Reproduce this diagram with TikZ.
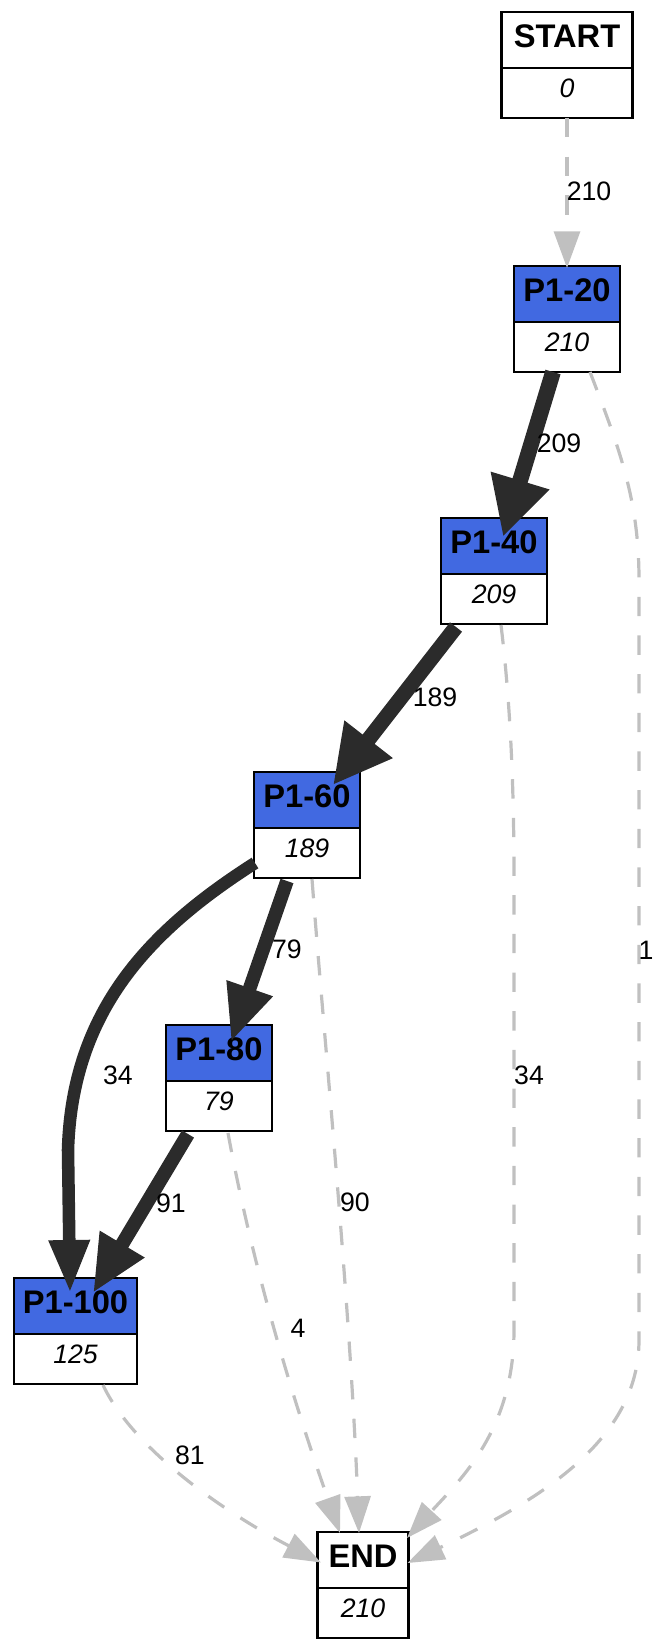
\documentclass[tikz,border=0pt]{standalone}
\usepackage{fontspec}
\setmainfont{Liberation Sans}
\usetikzlibrary{arrows.meta,calc}
\definecolor{royal}{HTML}{4169E1}
\definecolor{darkedge}{HTML}{2B2B2B}
\definecolor{lightedge}{HTML}{C0C0C0}
\begin{document}
\begin{tikzpicture}[x=0.75pt,y=-0.75pt,
  box/.style={draw=black,line width=2.1pt,inner sep=0pt,outer sep=0pt,anchor=north},
  hdr/.style={box,fill=royal,minimum height=42pt,font=\bfseries\fontsize{24.5}{27}\selectfont,text height=17.5pt,text depth=6.5pt},
  whdr/.style={hdr,fill=white},
  bdy/.style={box,fill=white,minimum height=37.5pt,font=\itshape\fontsize{20}{24}\selectfont,text height=14.3pt,text depth=7.5pt},
  lbl/.style={inner sep=0pt,font=\fontsize{20}{24}\selectfont},
  gedge/.style={draw=lightedge,line width=2.4pt,dash pattern=on 14.5pt off 14.5pt,-{Triangle[length=27.5pt,width=19.5pt]}},
  dedge/.style n args={3}{draw=darkedge,line width=#1,-{Triangle[length=#2,width=#3]}}
]
\useasboundingbox (0,0) rectangle (669,1650);
% nodes
\node[whdr,minimum width=98.25pt] (sh) at (567,12) {START};
\node[bdy,minimum width=98.25pt] (sb) at (sh.south) {0};
\node[hdr,minimum width=79.5pt] (p20h) at (567,266) {P1-20};
\node[bdy,minimum width=79.5pt] (p20b) at (p20h.south) {210};
\node[hdr,minimum width=79.5pt] (p40h) at (494,518) {P1-40};
\node[bdy,minimum width=79.5pt] (p40b) at (p40h.south) {209};
\node[hdr,minimum width=79.5pt] (p60h) at (307,772) {P1-60};
\node[bdy,minimum width=79.5pt] (p60b) at (p60h.south) {189};
\node[hdr,minimum width=79.5pt] (p80h) at (219,1025) {P1-80};
\node[bdy,minimum width=79.5pt] (p80b) at (p80h.south) {79};
\node[hdr,minimum width=92.25pt] (p100h) at (75.5,1278) {P1-100};
\node[bdy,minimum width=92.25pt] (p100b) at (p100h.south) {125};
\node[whdr,minimum width=68.25pt] (endh) at (363,1532) {END};
\node[bdy,minimum width=68.25pt] (endb) at (endh.south) {210};
% gray dashed edges
\draw[gedge] (sb.south) -- ($(p20h.north)+(0,2)$);
\draw[gedge] ($(p20b.south)+(23,0)$) .. controls (620,450) and (639,500) .. (639,580) -- (639,1340) .. controls (639,1440) and (540,1500) .. ($(endh.east)+(-1,3)$);
\draw[gedge] ($(p40b.south)+(7,1)$) .. controls (510,700) and (514,780) .. (514,880) -- (514,1330) .. controls (514,1430) and (460,1480) .. ($(endh.north east)+(-1.5,6)$);
\draw[gedge] ($(p60b.south)+(5,1)$) .. controls (325,1050) and (350,1300) .. ($(endh.north)+(-4,1)$);
\draw[gedge] ($(p80b.south)+(9,2)$) .. controls (255,1280) and (300,1420) .. ($(endh.north)+(-23,1)$);
\draw[gedge] ($(p100b.south)+(27.5,1)$) .. controls (132,1447) and (220,1510) .. ($(endh.west)+(3.5,2.5)$);
% dark edges
\draw[dedge={11.8pt}{44.25pt}{42.75pt}] ($(p20b.south)+(-14,0)$) -- ($(p40h.north)+(9,19)$);
\draw[dedge={11.4pt}{43.5pt}{42.75pt}] ($(p40b.south)+(-38,3)$) -- ($(p60h.north)+(26,13)$);
\draw[dedge={10.2pt}{42.75pt}{33.75pt}] ($(p60b.south)+(-20,3)$) -- ($(p80h.north)+(12,17)$);
\draw[dedge={10.5pt}{42.75pt}{36pt}] ($(p80b.south)+(-31,3)$) -- ($(p100h.north)+(17.5,15)$);
\draw[dedge={9.4pt}{39.75pt}{28.5pt}] ($(p60b.west)+(1,10)$) .. controls (150,930) and (72,1010) .. (68,1150) -- ($(p100h.north)+(-5.5,15)$);
% labels
\node[lbl] (l210) at (589,191) {210};
\node[lbl] (l209) at (559,443) {209};
\node[lbl] (l1) at (646,950) {1};
\node[lbl] (l189) at (435,697) {189};
\node[lbl] (l34a) at (529,1075) {34};
\node[lbl] (l79) at (287,949) {79};
\node[lbl] (l34b) at (118,1075) {34};
\node[lbl] (l90) at (355,1202) {90};
\node[lbl] (l91) at (171,1203) {91};
\node[lbl] (l4) at (298,1328) {4};
\node[lbl] (l81) at (190,1455) {81};
\end{tikzpicture}
\end{document}
